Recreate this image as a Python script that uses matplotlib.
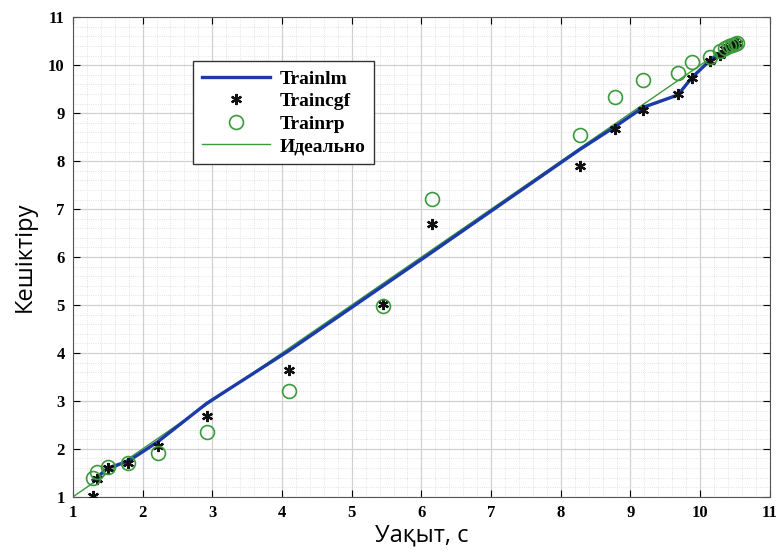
import matplotlib
matplotlib.use("Agg")
import matplotlib.pyplot as plt
from matplotlib.ticker import MultipleLocator

# time samples (x) and network outputs
t_vals = [1.29, 1.34, 1.50, 1.79, 2.22, 2.92, 4.10, 5.45, 6.15, 8.27, 8.78,
          9.18, 9.68, 9.88, 10.14, 10.28, 10.36, 10.42, 10.46, 10.50, 10.53]
trainlm = [1.35, 1.40, 1.60, 1.74, 2.15, 2.95, 4.05, 5.40, 6.10, 8.24, 8.72,
           9.12, 9.38, 9.74, 10.10, 10.24, 10.33, 10.39, 10.43, 10.46, 10.48]
traincgf = [1.02, 1.37, 1.60, 1.70, 2.06, 2.68, 3.65, 5.02, 6.68, 7.90, 8.68,
            9.06, 9.40, 9.74, 10.08, 10.22, 10.33, 10.38, 10.42, 10.45, 10.47]
trainrp = [1.40, 1.52, 1.63, 1.70, 1.92, 2.35, 3.20, 4.98, 7.22, 8.54, 9.33,
           9.69, 9.83, 10.06, 10.18, 10.30, 10.36, 10.40, 10.43, 10.45, 10.47]
ideal_x = [1, 10.5]
ideal_y = [1, 10.5]

fig = plt.figure(figsize=(7.84, 5.57), dpi=100)
ax = fig.add_axes([0.093, 0.108, 0.889, 0.861])

ax.plot(ideal_x, ideal_y, color="#3c9a3c", lw=1.0, label="Идеально", zorder=2)
ax.plot(t_vals, trainlm, color="#1c3aa8", lw=2.4, label="Trainlm", zorder=3)
ax.plot(t_vals, traincgf, ls="none", marker=(6, 2, 0), ms=8, mew=1.6,
        color="#111111", label="Traincgf", zorder=4)
ax.plot(t_vals, trainrp, ls="none", marker="o", ms=10, mfc="none", mew=1.2,
        color="#3c9a3c", label="Trainrp", zorder=4)

ax.set_xlim(1, 11)
ax.set_ylim(1, 11)
ax.xaxis.set_major_locator(MultipleLocator(1))
ax.yaxis.set_major_locator(MultipleLocator(1))
ax.xaxis.set_minor_locator(MultipleLocator(0.2))
ax.yaxis.set_minor_locator(MultipleLocator(0.2))
ax.grid(which="major", color="#d0d0d0", lw=0.9)
ax.grid(which="minor", color="#dadada", lw=0.6, ls=":")
ax.set_axisbelow(True)
ax.tick_params(which="both", direction="in", top=True, right=True)
ax.tick_params(which="minor", length=0)
ax.tick_params(which="major", length=5, pad=6)
for lab in ax.get_xticklabels() + ax.get_yticklabels():
    lab.set_fontfamily("Liberation Serif")
    lab.set_fontweight("bold")
    lab.set_fontsize(12)
for sp in ax.spines.values():
    sp.set_color("#555555")

ax.set_xlabel("Уақыт, с", fontsize=17, family="Open Sans", labelpad=2)
ax.set_ylabel("Кешіктіру", fontsize=17, family="Open Sans", labelpad=8)

# legend order: Trainlm, Traincgf, Trainrp, Идеально
handles, labels = ax.get_legend_handles_labels()
order = [1, 2, 3, 0]
leg = ax.legend([handles[i] for i in order], [labels[i] for i in order],
                loc="upper left", bbox_to_anchor=(0.172, 0.908), borderaxespad=0,
                fancybox=False, edgecolor="#333333", framealpha=1,
                prop={"family": "Liberation Serif", "weight": "bold", "size": 14},
                handlelength=3.5, handletextpad=0.5, borderpad=0.45,
                labelspacing=0.25)
leg.get_frame().set_linewidth(1.0)

fig.savefig("out.png", dpi=100)
